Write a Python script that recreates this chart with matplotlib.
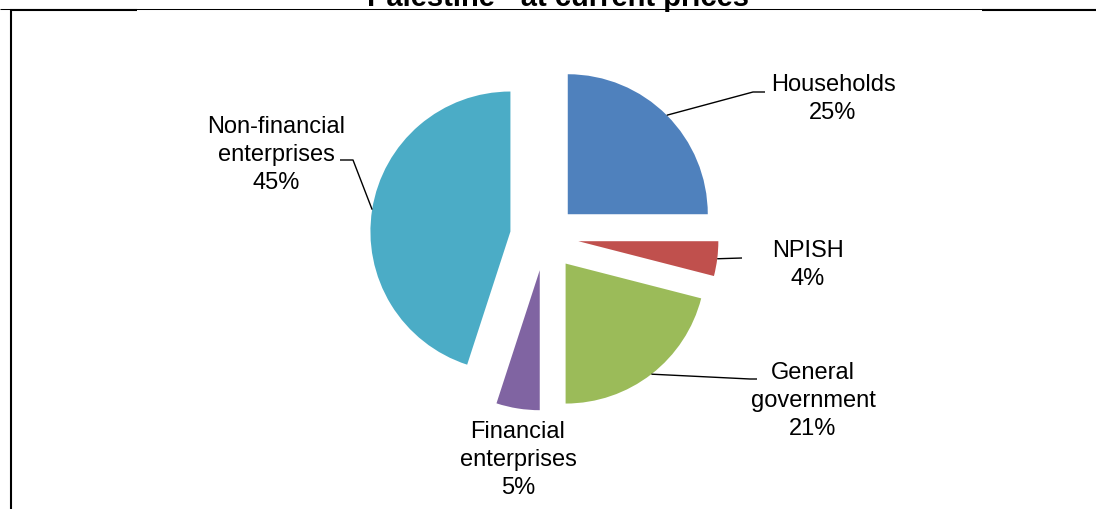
import matplotlib
matplotlib.use("Agg")
import matplotlib.pyplot as plt
import numpy as np

W, H = 1096, 510  # canvas in pixels; the axes use pixel units (y up)

sectors = ["Households", "NPISH", "General\ngovernment",
           "Financial\nenterprises", "Non-financial\nenterprises"]
shares = [25, 4, 21, 5, 45]
colors = ["#4F81BD", "#C0504D", "#9BBB59", "#8064A2", "#4BACC6"]
explode = [0.23, 0.24, 0.24, 0.24, 0.25]  # fraction of the radius

# label block centres and leader elbows, image pixels (y down)
label_xy = [(833, 99), (808, 265), (813, 401), (518, 460), (276, 155)]
elbows = [[(753, 93), (765, 93)], [(742, 259)], [(750, 380), (757, 380)],
          None, [(353, 161), (340, 161)]]

RADIUS = 140
FONT = ["Liberation Sans", "DejaVu Sans"]


def up(y):
    return H - y


fig = plt.figure(figsize=(W / 100, H / 100), dpi=100)
ax = fig.add_axes([0, 0, 1, 1])

# matplotlib's explode is an absolute offset, so scale it by the radius
wedges, _ = ax.pie(shares, colors=colors,
                   explode=[e * RADIUS for e in explode], startangle=90,
                   counterclock=False, center=(545, up(238)), radius=RADIUS,
                   wedgeprops=dict(linewidth=0))

for w, name, share, (lx, ly), elb in zip(wedges, sectors, shares, label_xy, elbows):
    ax.text(lx, up(ly), f"{name}\n{share}%", ha="center", va="center",
            fontsize=17, family=FONT, linespacing=1.35, multialignment="center")
    if elb is None:
        continue
    mid = np.deg2rad((w.theta1 + w.theta2) / 2)
    cx, cy = w.center
    xs = [cx + w.r * np.cos(mid)] + [p[0] for p in elb]
    ys = [cy + w.r * np.sin(mid)] + [up(p[1]) for p in elb]
    ax.plot(xs, ys, color="black", lw=1.0, solid_capstyle="butt")

# title, mostly above the visible area as in the source crop
ax.text(558, up(6), "Palestine - at current prices", ha="center", va="baseline",
        fontsize=21, fontweight="bold", family=FONT, clip_on=False)

# chart frame remnants
ax.plot([0, W], [up(9.5)] * 2, color="black", lw=0.75, solid_capstyle="butt")
ax.plot([10, 137], [up(10.5)] * 2, color="black", lw=1.5, solid_capstyle="butt")
ax.plot([982, W], [up(10.5)] * 2, color="black", lw=1.5, solid_capstyle="butt")
ax.plot([10.7, 10.7], [up(10), 0], color="black", lw=1.5, solid_capstyle="butt")

ax.set_xlim(0, W)
ax.set_ylim(0, H)
ax.set_aspect("equal")
ax.axis("off")

fig.savefig("out.png", dpi=100, facecolor="white")
plt.close(fig)
